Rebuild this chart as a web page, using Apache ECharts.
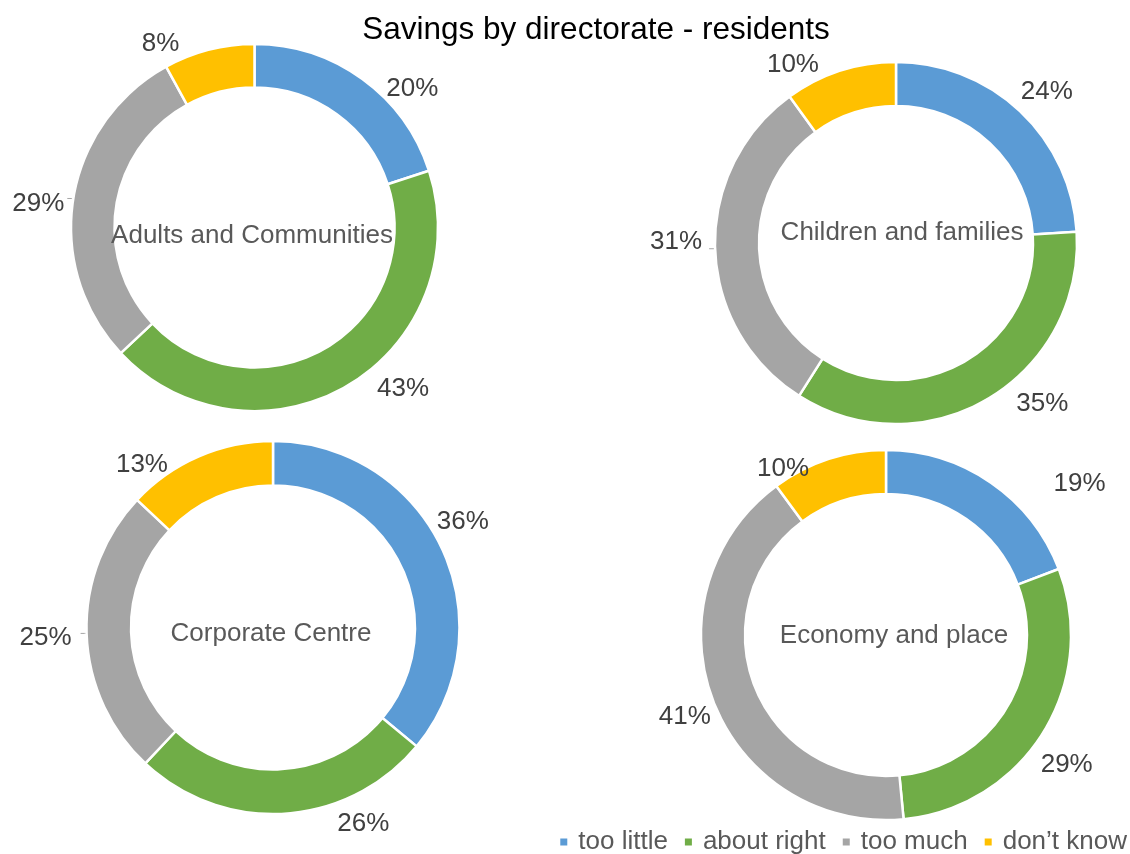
<!DOCTYPE html>
<html>
<head>
<meta charset="utf-8">
<script src="https://cdn.jsdelivr.net/npm/echarts@6/dist/echarts.min.js"></script>
<style>
  html, body { margin: 0; padding: 0; background: #fff; }
  #pieChart { width: 1130px; height: 854px; }
</style>
</head>
<body>
<div id="pieChart"></div>
<script>
const titleName = 'Savings by directorate - residents';
const categories = ['too little', 'about right', 'too much', 'don’t know'];
const directorates = ['Adults and Communities', 'Children and families', 'Corporate Centre', 'Economy and place'];
const adultsData = [20, 43, 29, 8];
const childrenData = [24, 35, 31, 10];
const corporateData = [36, 26, 25, 13];
const economyData = [19, 29, 41, 10];
const pieColors = ['#5B9BD5', '#70AD47', '#A5A5A5', '#FFC000'];

const fontFamily = "'Liberation Sans', Arial, sans-serif";

// where each donut sits on the page
const layouts = [
  { center: [254.5, 227.5], radius: [140, 183.5], text: [252, 236] },
  { center: [896, 243], radius: [137, 181], text: [902, 233] },
  { center: [273, 627.5], radius: [142, 186.5], text: [271, 634] },
  { center: [886, 635], radius: [141, 185], text: [894, 636] },
];
// small nudges for the % labels (dx, dy, short leader line), like the hand placed ones in excel
const labelNudge = [
  [[3, 18], [9, -5], [2, 5, true], [-12, 4]],
  [[-21, -12], [8, -4], [-2, -7, true], [-3, 3]],
  [[-29, -22], [37, 0], [-4, 4, true], [-12, 18]],
  [[42, 9], [-26, 27], [22, 12], [-1, 19]],
];
const seriesValues = [adultsData, childrenData, corporateData, economyData];

let pieChart = echarts.init(document.getElementById('pieChart'));

let titles = [
  {
    text: titleName,
    left: 596,
    top: 14,
    textAlign: 'center',
    padding: 0,
    textStyle: { fontFamily: fontFamily, fontSize: 31.5, fontWeight: 'normal', color: '#000' },
  },
];
directorates.forEach((name, i) => {
  titles.push({
    text: name,
    left: layouts[i].text[0],
    top: layouts[i].text[1],
    textAlign: 'center',
    textVerticalAlign: 'middle',
    padding: 0,
    textStyle: { fontFamily: fontFamily, fontSize: 26, fontWeight: 'normal', color: '#595959' },
  });
});

let series = seriesValues.map((values, i) => ({
  type: 'pie',
  name: directorates[i],
  center: layouts[i].center,
  radius: layouts[i].radius,
  startAngle: 90,
  clockwise: true,
  avoidLabelOverlap: false,
  animation: false,
  itemStyle: { borderColor: '#fff', borderWidth: 2.5 },
  label: {
    show: true,
    position: 'outside',
    formatter: '{c}%',
    fontFamily: fontFamily,
    fontSize: 26,
    color: '#404040',
    distanceToLabelLine: 5,
  },
  labelLine: { show: false, length: 10, length2: 10, lineStyle: { color: '#A6A6A6', width: 1 } },
  labelLayout: (params) => {
    let n = labelNudge[i][params.dataIndex];
    return { dx: n[0], dy: n[1] };
  },
  emphasis: { disabled: true },
  data: values.map((v, k) => {
    let withLine = !!labelNudge[i][k][2];
    return {
      value: v,
      name: categories[k],
      itemStyle: { color: pieColors[k] },
      labelLine: withLine ? { show: true, length: 2, length2: 4 } : { show: false },
    };
  }),
}));

let options = {
  color: pieColors,
  title: titles,
  legend: {
    data: categories,
    right: 3,
    top: 829,
    padding: 0,
    icon: 'rect',
    itemWidth: 9,
    itemHeight: 9,
    itemGap: 15,
    textStyle: { fontFamily: fontFamily, fontSize: 26, color: '#595959', padding: [0, 0, 0, 5] },
  },
  series: series,
};

pieChart.setOption(options);
</script>
</body>
</html>
